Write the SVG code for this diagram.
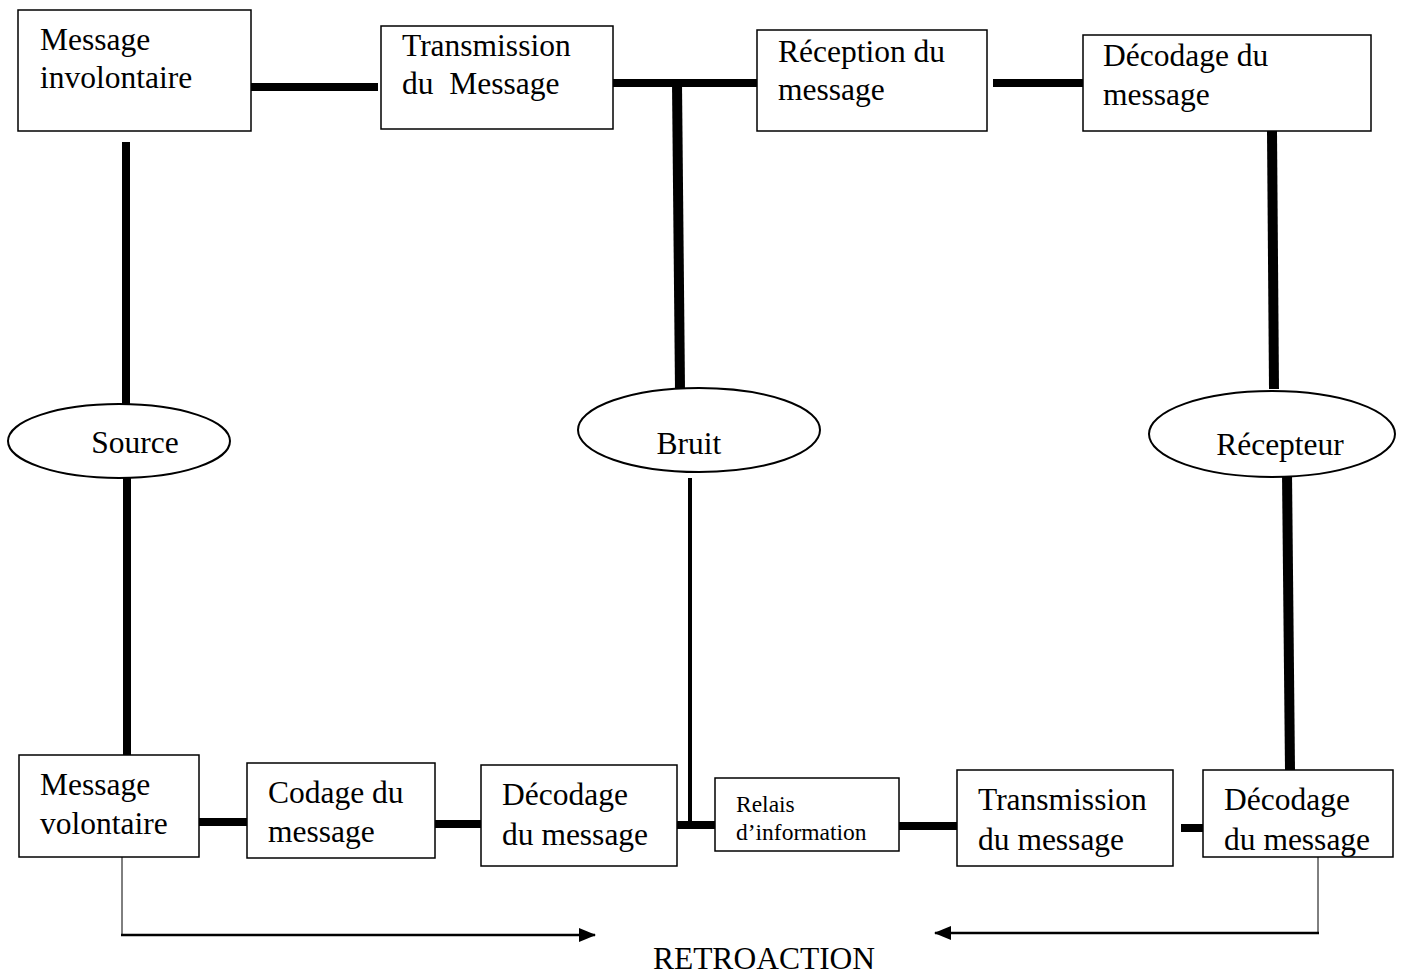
<svg xmlns="http://www.w3.org/2000/svg" width="1407" height="974" viewBox="0 0 1407 974">
  <style>
    .box { fill: #fff; stroke: #000; stroke-width: 1.5; }
    .ell { fill: #fff; stroke: #000; stroke-width: 2; }
    .t { font-family: "Liberation Serif", "Times New Roman", serif; font-size: 31.5px; fill: #000; }
    .ts { font-family: "Liberation Serif", "Times New Roman", serif; font-size: 23.5px; fill: #000; }
    .thick { stroke: #000; stroke-width: 8; fill: none; }
    .heavy { stroke: #000; stroke-width: 10; fill: none; }
    .mid { stroke: #000; stroke-width: 4; fill: none; }
    .thin { stroke: #000; stroke-width: 1; fill: none; }
    .arr { stroke: #000; stroke-width: 2.5; fill: none; }
  </style>
  <defs>
    <marker id="head" markerWidth="17" markerHeight="14" refX="16" refY="7" orient="auto" markerUnits="userSpaceOnUse">
      <path d="M0,0 L17,7 L0,14 Z" fill="#000"/>
    </marker>
  </defs>
  <rect width="1407" height="974" fill="#fff"/>

  <!-- connectors -->
  <g id="connectors">
    <!-- top row -->
    <line class="thick" x1="251" y1="87" x2="378" y2="87"/>
    <line class="thick" x1="613" y1="83" x2="757" y2="83"/>
    <line class="heavy" x1="677" y1="83" x2="680" y2="389"/>
    <line class="thick" x1="993" y1="83" x2="1083" y2="83"/>
    <line class="heavy" x1="1272" y1="131" x2="1274" y2="389"/>
    <!-- source axis -->
    <line class="thick" x1="126" y1="142" x2="126" y2="405"/>
    <line class="thick" x1="127" y1="478" x2="127" y2="755"/>
    <!-- noise down to relay -->
    <line class="mid" x1="690" y1="478" x2="690" y2="827"/>
    <!-- receiver down -->
    <line class="heavy" x1="1287" y1="473" x2="1290" y2="770"/>
    <!-- bottom row -->
    <line class="thick" x1="199" y1="822" x2="247" y2="822"/>
    <line class="thick" x1="435" y1="824" x2="481" y2="824"/>
    <line class="thick" x1="677" y1="825" x2="715" y2="825"/>
    <line class="thick" x1="899" y1="826" x2="957" y2="826"/>
    <line class="thick" x1="1181" y1="828" x2="1203" y2="828"/>
    <!-- feedback -->
    <polyline class="thin" points="122,857 122,935"/>
    <line class="arr" x1="121" y1="935" x2="595" y2="935" marker-end="url(#head)"/>
    <polyline class="thin" points="1318,857 1318,933"/>
    <line class="arr" x1="1319" y1="933" x2="935" y2="933" marker-end="url(#head)"/>
  </g>

  <!-- top row nodes -->
  <g id="msg-involontaire">
    <rect class="box" x="18" y="10" width="233" height="121"/>
    <text class="t" x="40" y="50">Message</text>
    <text class="t" x="40" y="88">involontaire</text>
  </g>
  <g id="transmission-top">
    <rect class="box" x="381" y="26" width="232" height="103"/>
    <text class="t" x="402" y="56">Transmission</text>
    <text class="t" x="402" y="94" xml:space="preserve">du  Message</text>
  </g>
  <g id="reception">
    <rect class="box" x="757" y="30" width="230" height="101"/>
    <text class="t" x="778" y="62">Réception du</text>
    <text class="t" x="778" y="100">message</text>
  </g>
  <g id="decodage-top">
    <rect class="box" x="1083" y="35" width="288" height="96"/>
    <text class="t" x="1103" y="66">Décodage du</text>
    <text class="t" x="1103" y="105">message</text>
  </g>

  <!-- ellipses -->
  <g id="source">
    <ellipse class="ell" cx="119" cy="441" rx="111" ry="37"/>
    <text class="t" x="135" y="453" text-anchor="middle">Source</text>
  </g>
  <g id="bruit">
    <ellipse class="ell" cx="699" cy="430" rx="121" ry="42"/>
    <text class="t" x="689" y="454" text-anchor="middle">Bruit</text>
  </g>
  <g id="recepteur">
    <ellipse class="ell" cx="1272" cy="434" rx="123" ry="43"/>
    <text class="t" x="1280" y="455" text-anchor="middle">Récepteur</text>
  </g>

  <!-- bottom row nodes -->
  <g id="msg-volontaire">
    <rect class="box" x="19" y="755" width="180" height="102"/>
    <text class="t" x="40" y="795">Message</text>
    <text class="t" x="40" y="834">volontaire</text>
  </g>
  <g id="codage">
    <rect class="box" x="247" y="763" width="188" height="95"/>
    <text class="t" x="268" y="803">Codage du</text>
    <text class="t" x="268" y="842">message</text>
  </g>
  <g id="decodage-1">
    <rect class="box" x="481" y="765" width="196" height="101"/>
    <text class="t" x="502" y="805">Décodage</text>
    <text class="t" x="502" y="845">du message</text>
  </g>
  <g id="relais">
    <rect class="box" x="715" y="778" width="184" height="73"/>
    <text class="ts" x="736" y="812">Relais</text>
    <text class="ts" x="736" y="840">d’information</text>
  </g>
  <g id="transmission-bottom">
    <rect class="box" x="957" y="770" width="216" height="96"/>
    <text class="t" x="978" y="810">Transmission</text>
    <text class="t" x="978" y="850">du message</text>
  </g>
  <g id="decodage-2">
    <rect class="box" x="1203" y="770" width="190" height="87"/>
    <text class="t" x="1224" y="810">Décodage</text>
    <text class="t" x="1224" y="850">du message</text>
  </g>

  <g id="retroaction">
    <text class="t" x="764" y="969" text-anchor="middle">RETROACTION</text>
  </g>
</svg>
